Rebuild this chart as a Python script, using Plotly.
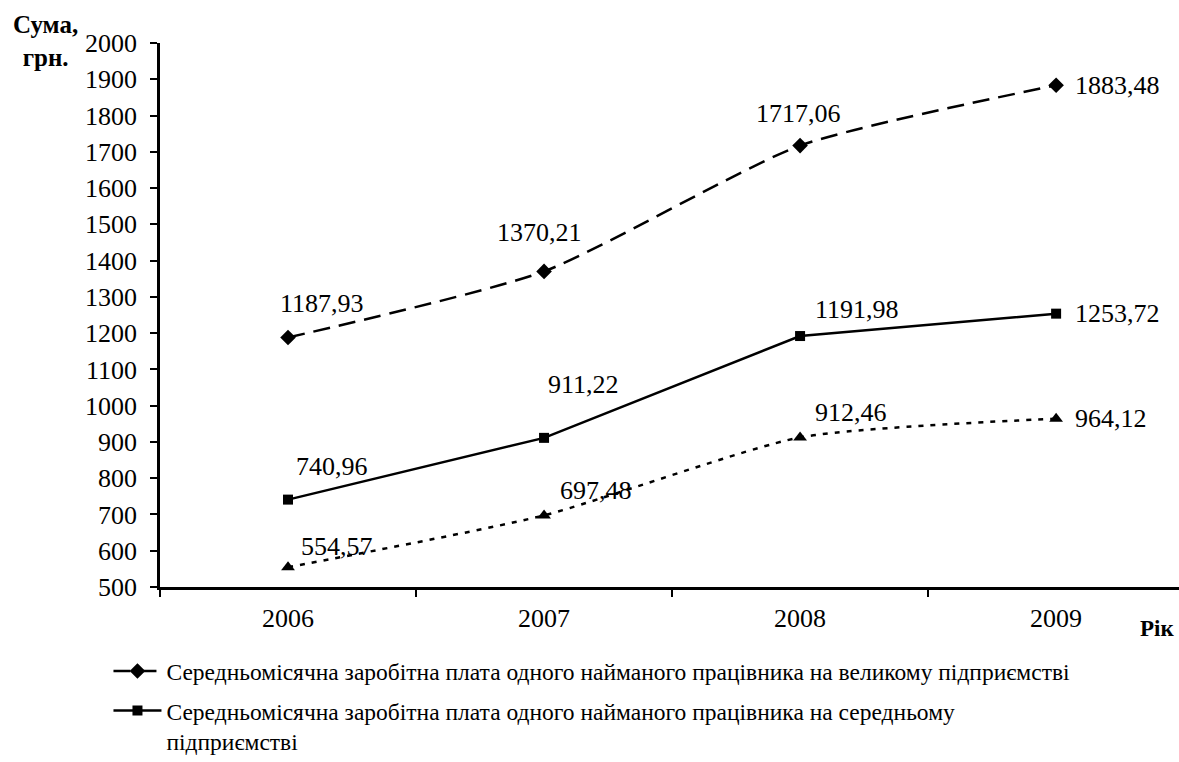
import plotly.graph_objects as go

years = ["2006", "2007", "2008", "2009"]
large = [1187.93, 1370.21, 1717.06, 1883.48]
medium = [740.96, 911.22, 1191.98, 1253.72]
small = [554.57, 697.48, 912.46, 964.12]
labels_large = ["1187,93", "1370,21", "1717,06", "1883,48"]
labels_medium = ["740,96", "911,22", "1191,98", "1253,72"]
labels_small = ["554,57", "697,48", "912,46", "964,12"]
names = [
    "Середньомісячна заробітна плата одного найманого працівника на великому підприємстві",
    "Середньомісячна заробітна плата одного найманого працівника на середньому<br>підприємстві",
    "Середньомісячна заробітна плата одного найманого працівника на малому<br>підприємстві",
]
y_ticks = list(range(500, 2001, 100))

FONT = "Liberation Serif"

fig = go.Figure()
fig.add_trace(go.Scatter(
    x=years, y=large, name=names[0], mode="lines+markers",
    line=dict(color="black", width=2.5, dash="17px,9px", shape="spline", smoothing=0.6),
    marker=dict(symbol="diamond", size=12, color="black"),
    legendgroup="a"))
fig.add_trace(go.Scatter(
    x=years, y=medium, name=names[1], mode="lines+markers",
    line=dict(color="black", width=2.5),
    marker=dict(symbol="square", size=10, color="black"),
    legendgroup="b"))
fig.add_trace(go.Scatter(
    x=years, y=small, name=names[2], mode="lines+markers",
    line=dict(color="black", width=2.5, dash="5px,7px", shape="spline", smoothing=0.6),
    marker=dict(symbol="triangle-up", size=12, color="black"),
    legendgroup="c", showlegend=False))

# label offsets (pixels) per series/point: (xshift, yshift, xanchor)
offs_large = [(34, 34, "center"), (-5, 39, "center"), (-2, 32, "center"), (17, 0, "left")]
offs_medium = [(44, 33, "center"), (39, 53, "center"), (57, 27, "center"), (17, 0, "left")]
offs_small = [(49, 21, "center"), (52, 25, "center"), (51, 25, "center"), (17, 0, "left")]

for vals, labs, offs in [(large, labels_large, offs_large),
                         (medium, labels_medium, offs_medium),
                         (small, labels_small, offs_small)]:
    for i, (yv, lab, (dx, dy, xa)) in enumerate(zip(vals, labs, offs)):
        fig.add_annotation(x=i, y=yv, xref="x", yref="y", text=lab, showarrow=False,
                           xshift=dx, yshift=dy, xanchor=xa, yanchor="middle",
                           font=dict(family=FONT, size=26, color="black"))

fig.add_annotation(xref="paper", yref="paper", x=-0.112, y=1.003,
                   text="<b>Сума,<br>грн.</b>", showarrow=False,
                   xanchor="center", yanchor="middle", align="center",
                   font=dict(family=FONT, size=25, color="black"))
fig.add_annotation(xref="paper", yref="paper", x=0.997, y=-0.077,
                   text="<b>Рік</b>", showarrow=False,
                   xanchor="right", yanchor="middle",
                   font=dict(family=FONT, size=23, color="black"))

fig.update_layout(
    width=1179, height=762,
    margin=dict(l=160, r=0, t=43, b=175, autoexpand=False),
    plot_bgcolor="white", paper_bgcolor="white",
    font=dict(family=FONT, color="black"),
    showlegend=True,
    legend=dict(
        xref="container", yref="container",
        x=0.092, y=0.148, xanchor="left", yanchor="top",
        orientation="v", traceorder="grouped", tracegroupgap=6,
        font=dict(family=FONT, size=23.5, color="black"),
        itemwidth=48, valign="top", bgcolor="rgba(0,0,0,0)",
    ),
    xaxis=dict(
        type="category", range=[-0.5, 3.48], showgrid=False,
        showline=True, linecolor="black", linewidth=2.5,
        ticks="outside", ticklen=7, tickwidth=2, tickcolor="black",
        tickson="boundaries", ticklabelstandoff=6,
        tickfont=dict(family=FONT, size=26, color="black"),
    ),
    yaxis=dict(
        range=[500, 2000], tickvals=y_ticks, showgrid=False, zeroline=False,
        showline=True, linecolor="black", linewidth=2.5,
        ticks="outside", ticklen=7, tickwidth=2, tickcolor="black",
        tickfont=dict(family=FONT, size=26, color="black"),
        ticklabelstandoff=8,
    ),
)

fig.write_html("out.html", config={"displayModeBar": False},
               post_script="document.body.style.margin='0';")
